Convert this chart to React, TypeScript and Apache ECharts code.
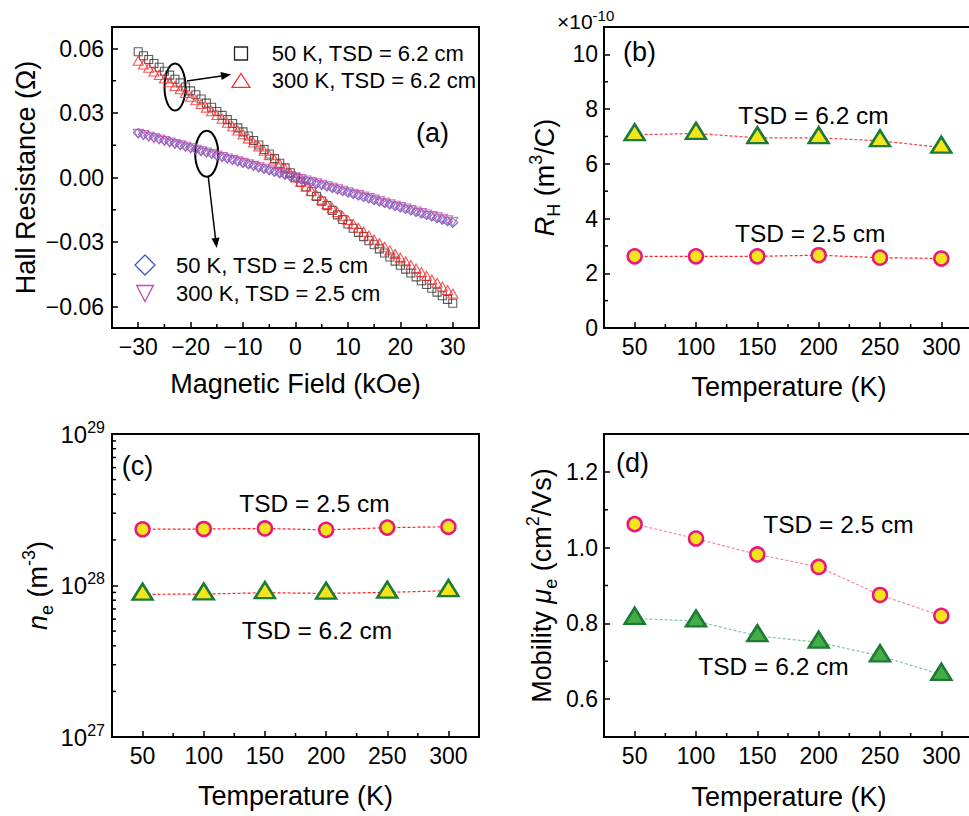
import React, { useEffect, useRef } from 'react';
import * as echarts from 'echarts';

// ---------- Panel (a): Hall resistance vs magnetic field ----------
const field = [
  -30, -29, -28, -27, -26, -25, -24, -23, -22, -21, -20, -19, -18, -17, -16, -15, -14, -13, -12, -11,
  -10, -9, -8, -7, -6, -5, -4, -3, -2, -1, 0, 1, 2, 3, 4, 5, 6, 7, 8, 9,
  10, 11, 12, 13, 14, 15, 16, 17, 18, 19, 20, 21, 22, 23, 24, 25, 26, 27, 28, 29, 30,
];
const hall50K62 = [
  0.0585, 0.0566, 0.0549, 0.053, 0.0513, 0.0494, 0.0476, 0.0457, 0.044, 0.0421,
  0.0403, 0.0385, 0.0365, 0.0346, 0.0327, 0.0307, 0.0289, 0.0269, 0.0251, 0.0231,
  0.0212, 0.0193, 0.0172, 0.0151, 0.013, 0.0109, 0.0088, 0.0066, 0.0045, 0.0022,
  0.0001, -0.0021, -0.0044, -0.0066, -0.0088, -0.011, -0.0131, -0.0153, -0.0174, -0.0195,
  -0.0216, -0.0236, -0.0255, -0.0275, -0.0294, -0.0313, -0.0332, -0.0351, -0.037, -0.0389,
  -0.0408, -0.0426, -0.0444, -0.0462, -0.048, -0.0498, -0.0515, -0.0533, -0.055, -0.0567, -0.0585,
];
const hall300K62 = [
  0.0543, 0.0526, 0.051, 0.0493, 0.0477, 0.046, 0.0443, 0.0426, 0.041, 0.0393,
  0.0376, 0.0359, 0.0342, 0.0325, 0.0308, 0.0291, 0.0273, 0.0255, 0.0237, 0.0219,
  0.0201, 0.0182, 0.0163, 0.0144, 0.0124, 0.0104, 0.0084, 0.0063, 0.0042, 0.0021,
  0.0, -0.0021, -0.0042, -0.0062, -0.0083, -0.0103, -0.0123, -0.0142, -0.0161, -0.018,
  -0.0198, -0.0216, -0.0234, -0.0252, -0.027, -0.0288, -0.0305, -0.0322, -0.0339, -0.0356,
  -0.0373, -0.039, -0.0407, -0.0423, -0.044, -0.0457, -0.0474, -0.049, -0.0507, -0.0523, -0.054,
];
const hall50K25 = [
  0.0207, 0.02, 0.0193, 0.0187, 0.018, 0.0173, 0.0166, 0.0159, 0.0152, 0.0145,
  0.0138, 0.0131, 0.0124, 0.0117, 0.011, 0.0103, 0.0096, 0.0089, 0.0082, 0.0075,
  0.0069, 0.0062, 0.0055, 0.0048, 0.0041, 0.0034, 0.0027, 0.002, 0.0013, 0.0007,
  0.0, -0.0007, -0.0014, -0.0021, -0.0028, -0.0035, -0.0042, -0.0049, -0.0056, -0.0063,
  -0.007, -0.0077, -0.0084, -0.0091, -0.0098, -0.0105, -0.0112, -0.0119, -0.0126, -0.0133,
  -0.014, -0.0147, -0.0154, -0.0161, -0.0168, -0.0175, -0.0182, -0.0189, -0.0196, -0.0203, -0.021,
];
const hall300K25 = [
  0.0203, 0.0197, 0.019, 0.0183, 0.0177, 0.017, 0.0163, 0.0156, 0.015, 0.0143,
  0.0136, 0.0129, 0.0122, 0.0116, 0.0109, 0.0102, 0.0095, 0.0088, 0.0081, 0.0075,
  0.0068, 0.0061, 0.0054, 0.0047, 0.0041, 0.0034, 0.0027, 0.002, 0.0014, 0.0007,
  0.0, -0.0007, -0.0014, -0.0021, -0.0027, -0.0034, -0.0041, -0.0048, -0.0055, -0.0062,
  -0.0069, -0.0076, -0.0082, -0.0089, -0.0096, -0.0103, -0.011, -0.0117, -0.0124, -0.0131,
  -0.0137, -0.0144, -0.0151, -0.0158, -0.0165, -0.0172, -0.0179, -0.0185, -0.0192, -0.0199, -0.0206,
];

// ---------- Panels (b)-(d): vs temperature ----------
const temps = [50, 100, 150, 200, 250, 300];
const rh62 = [7.06, 7.11, 6.95, 6.95, 6.84, 6.6]; // x1e-10 m3/C
const rh25 = [2.62, 2.62, 2.62, 2.66, 2.57, 2.54];
const ne25 = [2.35e28, 2.36e28, 2.38e28, 2.33e28, 2.41e28, 2.44e28];
const ne62 = [8.74e27, 8.78e27, 8.96e27, 8.87e27, 9.01e27, 9.24e27];
const mu25 = [1.062, 1.024, 0.982, 0.949, 0.875, 0.82];
const mu62 = [0.813, 0.806, 0.767, 0.75, 0.714, 0.665];

// minor tick values (axis decoration)
const fieldMinorTicks = [-25, -15, -5, 5, 15, 25];
const hallMinorTicks = [-0.045, -0.015, 0.015, 0.045];
const tempMinorTicks = [75, 125, 175, 225, 275];
const rhMinorTicks = [1, 3, 5, 7, 9];
const logMinorTicks = [2e27, 3e27, 4e27, 5e27, 6e27, 7e27, 8e27, 9e27, 2e28, 3e28, 4e28, 5e28, 6e28, 7e28, 8e28, 9e28];
const muMinorTicks = [0.7, 0.9, 1.1];

const FONT = "'Liberation Sans', Arial, Helvetica, sans-serif";
const YEL = '#f4e51b';
const PINK = '#e8197e';
const DGREEN = '#1c7a36';
const LGREEN = '#45ad45';

// the right-hand panels are cropped by the page edge: the chart canvas is wider
// than the window, and the grids keep the same px-per-kelvin as the left ones
const CANVAS_W = 1100;
const RIGHT_W = 460;
const RIGHT_MAX = 25 + RIGHT_W * (300 / 368);

const near = (v: number, step: number) => Math.abs(Math.round(v / step) * step - v) < step * 1e-6;
const minus = (s: string) => s.replace('-', '\u2212');

function mainAxis(gridIndex: number, min: number, max: number, step: number, position: string, margin: number, fmt: (v: number) => string, extra: any = {}) {
  return {
    type: 'value', gridIndex, min, max, minInterval: step, maxInterval: step, position,
    axisLine: { show: true, onZero: false, lineStyle: { color: '#000', width: 2 } },
    axisTick: { show: true, inside: true, length: 6, lineStyle: { color: '#000', width: 1.5 } },
    minorTick: { show: false },
    splitLine: { show: false },
    axisLabel: { show: true, margin, fontSize: 23, color: '#000', fontFamily: FONT, formatter: fmt, hideOverlap: false },
    ...extra,
  };
}
function frameAxis(gridIndex: number, min: number, max: number, position: string) {
  return {
    type: 'value', gridIndex, min, max, position,
    axisLine: { show: true, onZero: false, lineStyle: { color: '#000', width: 2 } },
    axisTick: { show: false },
    axisLabel: { show: false },
    splitLine: { show: false },
  };
}
// short inward minor ticks drawn through the axes' own scales
function minorTickSeries(xi: number, yi: number, pts: number[][], dir: 'x' | 'y') {
  return {
    type: 'custom', xAxisIndex: xi, yAxisIndex: yi, silent: true, clip: false, z: 5,
    data: pts,
    renderItem: (_p: any, api: any) => {
      const p = api.coord([api.value(0), api.value(1)]);
      const shape = dir === 'y'
        ? { x1: p[0], y1: p[1], x2: p[0] + 4, y2: p[1] }
        : { x1: p[0], y1: p[1], x2: p[0], y2: p[1] - 4 };
      return { type: 'line', shape, style: { stroke: '#000', lineWidth: 1.5 } };
    },
  };
}
const nameStyle = (lh: number, rich?: any) => ({
  fontSize: 27, fontFamily: FONT, color: '#000', lineHeight: lh,
  ...(rich ? { rich } : {}),
});
const titleRich = {
  i: { fontSize: 27, fontFamily: FONT, fontStyle: 'italic', color: '#000' },
  sub: { fontSize: 18, fontFamily: FONT, verticalAlign: 'bottom', color: '#000' },
  sup: { fontSize: 18, fontFamily: FONT, verticalAlign: 'top', color: '#000' },
};
const tempFmt = (v: number) => (near(v, 50) && v >= 50 && v <= 300 ? String(Math.round(v)) : '');

function txt(x: number, y: number, text: string, size: number, extra: any = {}) {
  return {
    type: 'text', x, y, silent: true,
    style: { text, fontSize: size, fontFamily: FONT, fill: '#000', align: 'left', textAlign: 'left', verticalAlign: 'middle', textVerticalAlign: 'middle', ...extra },
  };
}

function buildOption(): any {
  const boxed = { show: true, borderColor: '#000', borderWidth: 2 };
  const open = { show: false };
  const grids = [
    { left: 112, top: 27, width: 367, height: 301, ...boxed },
    { left: 604, top: 27, width: RIGHT_W, height: 301, ...open },
    { left: 112, top: 434, width: 367, height: 303, ...boxed },
    { left: 604, top: 434, width: RIGHT_W, height: 303, ...open },
  ].map((g) => ({ ...g, backgroundColor: 'transparent', containLabel: false, outerBoundsMode: 'none' }));

  const xAxis = [
    mainAxis(0, -35, 35, 10, 'bottom', 7, (v) => (near(v, 10) && Math.abs(v) <= 30 ? minus(String(Math.round(v))) : ''), {
      name: 'Magnetic Field (kOe)', nameLocation: 'middle', nameGap: 42, nameTextStyle: nameStyle(27),
    }),
    mainAxis(1, 25, RIGHT_MAX, 50, 'bottom', 7, tempFmt),
    mainAxis(2, 25, 325, 50, 'bottom', 7, tempFmt, {
      name: 'Temperature (K)', nameLocation: 'middle', nameGap: 45, nameTextStyle: nameStyle(27),
    }),
    mainAxis(3, 25, RIGHT_MAX, 50, 'bottom', 7, tempFmt),
    frameAxis(1, 25, RIGHT_MAX, 'top'),
    frameAxis(3, 25, RIGHT_MAX, 'top'),
  ];

  const yAxis = [
    mainAxis(0, -0.07, 0.07, 0.03, 'left', 8, (v) => (near(v, 0.03) && Math.abs(v) <= 0.061 ? minus((Math.abs(v) < 1e-9 ? 0 : v).toFixed(2)) : ''), {
      name: 'Hall Resistance (\u03A9)', nameLocation: 'middle', nameGap: 73, nameTextStyle: nameStyle(27),
    }),
    mainAxis(1, 0, 11, 2, 'left', 6, (v) => (near(v, 2) && v <= 10 ? String(Math.round(v)) : ''), {
      name: '{i|R}{sub|H} (m{sup|3}/C)', nameLocation: 'middle', nameGap: 41, nameTextStyle: nameStyle(36, titleRich),
    }),
    {
      type: 'log', logBase: 10, gridIndex: 2, min: 1e27, max: 1e29, position: 'left',
      axisLine: { show: true, onZero: false, lineStyle: { color: '#000', width: 2 } },
      axisTick: { show: true, inside: true, length: 6, lineStyle: { color: '#000', width: 1.5 } },
      splitLine: { show: false },
      axisLabel: {
        show: true, margin: 7, color: '#000', fontFamily: FONT,
        formatter: (v: number) => '{b|10}{s|' + Math.round(Math.log10(v)) + '}',
        rich: {
          b: { fontSize: 24, lineHeight: 30, fontFamily: FONT, color: '#000' },
          s: { fontSize: 16, verticalAlign: 'top', fontFamily: FONT, color: '#000' },
        },
      },
      name: '{i|n}{sub|e} (m{sup|-3})', nameLocation: 'middle', nameGap: 56, nameTextStyle: nameStyle(36, titleRich),
    },
    mainAxis(3, 0.5, 1.3, 0.2, 'left', 6, (v) => (near(v, 0.2) && v > 0.55 && v < 1.25 ? v.toFixed(1) : ''), {
      name: 'Mobility {i|\u03BC}{sub|e} (cm{sup|2}/Vs)', nameLocation: 'middle', nameGap: 44, nameTextStyle: nameStyle(36, titleRich),
    }),
  ];

  const hollow = (color: string) => ({ color: 'rgba(0,0,0,0)', borderColor: color, borderWidth: 1.1 });
  const pairs = (xs: number[], ys: number[]) => xs.map((x, i) => [x, ys[i]]);
  const triOff = [0, -16 / 6];

  const series: any[] = [
    { type: 'scatter', name: '50 K, TSD = 6.2 cm', xAxisIndex: 0, yAxisIndex: 0, data: pairs(field, hall50K62), symbol: 'rect', symbolSize: 8, itemStyle: hollow('#333333'), silent: true },
    { type: 'scatter', name: '300 K, TSD = 6.2 cm', xAxisIndex: 0, yAxisIndex: 0, data: pairs(field, hall300K62), symbol: 'triangle', symbolSize: [10, 9], itemStyle: hollow('#ff2b2b'), silent: true },
    { type: 'scatter', name: '50 K, TSD = 2.5 cm', xAxisIndex: 0, yAxisIndex: 0, data: pairs(field, hall50K25), symbol: 'diamond', symbolSize: [10, 9], itemStyle: hollow('#4060c8'), silent: true },
    { type: 'scatter', name: '300 K, TSD = 2.5 cm', xAxisIndex: 0, yAxisIndex: 0, data: pairs(field, hall300K25), symbol: 'triangle', symbolRotate: 180, symbolSize: [10, 9], itemStyle: hollow('#c24bab'), silent: true },

    { type: 'line', name: 'RH TSD = 6.2 cm', xAxisIndex: 1, yAxisIndex: 1, data: pairs(temps, rh62), symbol: 'triangle', symbolSize: [20, 16], symbolOffset: triOff,
      itemStyle: { color: YEL, borderColor: DGREEN, borderWidth: 2.5 }, lineStyle: { color: '#ff3b3b', width: 1.2, type: [3, 2] }, z: 3 },
    { type: 'line', name: 'RH TSD = 2.5 cm', xAxisIndex: 1, yAxisIndex: 1, data: pairs(temps, rh25), symbol: 'circle', symbolSize: 14,
      itemStyle: { color: YEL, borderColor: PINK, borderWidth: 2.5 }, lineStyle: { color: '#ff2020', width: 1.2, type: [3, 2] }, z: 3 },

    { type: 'line', name: 'ne TSD = 2.5 cm', xAxisIndex: 2, yAxisIndex: 2, data: pairs(temps, ne25), symbol: 'circle', symbolSize: 14,
      itemStyle: { color: YEL, borderColor: PINK, borderWidth: 2.5 }, lineStyle: { color: '#ff2020', width: 1.2, type: [3, 2] }, z: 3 },
    { type: 'line', name: 'ne TSD = 6.2 cm', xAxisIndex: 2, yAxisIndex: 2, data: pairs(temps, ne62), symbol: 'triangle', symbolSize: [20, 16], symbolOffset: triOff,
      itemStyle: { color: YEL, borderColor: DGREEN, borderWidth: 2.5 }, lineStyle: { color: '#ff2020', width: 1.2, type: [3, 2] }, z: 3 },

    { type: 'line', name: 'mu TSD = 2.5 cm', xAxisIndex: 3, yAxisIndex: 3, data: pairs(temps, mu25), symbol: 'circle', symbolSize: 14,
      itemStyle: { color: YEL, borderColor: PINK, borderWidth: 2.5 }, lineStyle: { color: '#f28ca6', width: 1.2, type: [3, 2] }, z: 3 },
    { type: 'line', name: 'mu TSD = 6.2 cm', xAxisIndex: 3, yAxisIndex: 3, data: pairs(temps, mu62), symbol: 'triangle', symbolSize: [20, 16], symbolOffset: triOff,
      itemStyle: { color: LGREEN, borderColor: DGREEN, borderWidth: 2.5 }, lineStyle: { color: '#86c4a4', width: 1.2, type: [3, 2] }, z: 3 },

    // minor ticks
    minorTickSeries(0, 0, fieldMinorTicks.map((v) => [v, -0.07]), 'x'),
    minorTickSeries(0, 0, hallMinorTicks.map((v) => [-35, v]), 'y'),
    minorTickSeries(1, 1, tempMinorTicks.map((v) => [v, 0]), 'x'),
    minorTickSeries(1, 1, rhMinorTicks.map((v) => [25, v]), 'y'),
    minorTickSeries(2, 2, tempMinorTicks.map((v) => [v, 1e27]), 'x'),
    minorTickSeries(2, 2, logMinorTicks.map((v) => [25, v]), 'y'),
    minorTickSeries(3, 3, tempMinorTicks.map((v) => [v, 0.5]), 'x'),
    minorTickSeries(3, 3, muMinorTicks.map((v) => [25, v]), 'y'),
  ];

  const stroke = (c: string, w = 1.3) => ({ fill: 'none', stroke: c, lineWidth: w });
  const graphic: any[] = [
    // legend (a), top
    { type: 'rect', shape: { x: 234.5, y: 47, width: 13, height: 13 }, style: stroke('#222') },
    txt(271.7, 53.5, '50 K, TSD = 6.2 cm', 22),
    { type: 'polygon', shape: { points: [[241, 73.5], [250, 87.3], [232, 87.3]] }, style: stroke('#ff2b2b') },
    txt(271.7, 80.5, '300 K, TSD = 6.2 cm', 22),
    // legend (a), bottom
    { type: 'polygon', shape: { points: [[145, 255], [155, 265], [145, 275], [135, 265]] }, style: stroke('#3b5bc4') },
    txt(176, 265.5, '50 K, TSD = 2.5 cm', 22),
    { type: 'polygon', shape: { points: [[136.7, 285.5], [153.3, 285.5], [145, 301.5]] }, style: stroke('#c24bab') },
    txt(176, 293.5, '300 K, TSD = 2.5 cm', 22),
    // ellipses and arrows
    { type: 'ellipse', shape: { cx: 175, cy: 87, rx: 10.5, ry: 23.5 }, style: stroke('#000', 2) },
    { type: 'line', shape: { x1: 187, y1: 81, x2: 221.5, y2: 76 }, style: { stroke: '#000', lineWidth: 1.5 } },
    { type: 'polygon', shape: { points: [[231, 74.5], [221.7, 79.9], [220.5, 72.0]] }, style: { fill: '#000' } },
    { type: 'ellipse', shape: { cx: 206.7, cy: 153.7, rx: 11.5, ry: 23 }, style: stroke('#000', 2) },
    { type: 'line', shape: { x1: 208.3, y1: 177, x2: 215.5, y2: 238.5 }, style: { stroke: '#000', lineWidth: 1.5 } },
    { type: 'polygon', shape: { points: [[216.7, 248], [219.5, 237.6], [211.5, 238.6]] }, style: { fill: '#000' } },
    // panel labels
    txt(416, 133, '(a)', 27),
    txt(623, 52, '(b)', 27),
    txt(121.7, 465.5, '(c)', 27),
    txt(616, 462.5, '(d)', 27),
    // x-axis titles of the cropped right-hand panels (centred on the visible box)
    txt(789, 386.5, 'Temperature (K)', 27, { align: 'center', textAlign: 'center' }),
    txt(789, 796.5, 'Temperature (K)', 27, { align: 'center', textAlign: 'center' }),
    // TSD annotations
    txt(738.3, 115, 'TSD = 6.2 cm', 24.5),
    txt(735, 233.3, 'TSD = 2.5 cm', 24.5),
    txt(239.3, 503.3, 'TSD = 2.5 cm', 24.5),
    txt(241.7, 630, 'TSD = 6.2 cm', 24.5),
    txt(763.3, 524, 'TSD = 2.5 cm', 24.5),
    txt(698.3, 666.7, 'TSD = 6.2 cm', 24.5),
    // axis multiplier for (b)
    {
      type: 'text', x: 557, y: 7.5, silent: true,
      style: {
        text: '\u00D710{s|-10}', fontSize: 21, fontFamily: FONT, fill: '#000', lineHeight: 28,
        align: 'left', textAlign: 'left', verticalAlign: 'top', textVerticalAlign: 'top',
        rich: { s: { fontSize: 15, fontFamily: FONT, fill: '#000', verticalAlign: 'top' } },
      },
    },
  ];

  return {
    animation: false,
    backgroundColor: '#ffffff',
    textStyle: { fontFamily: FONT, color: '#000' },
    grid: grids,
    xAxis,
    yAxis,
    series,
    graphic,
  };
}

export default function App() {
  const ref = useRef<HTMLDivElement | null>(null);
  useEffect(() => {
    if (!ref.current) return;
    const chart = echarts.init(ref.current, undefined, { renderer: 'svg' });
    chart.setOption(buildOption());
    return () => chart.dispose();
  }, []);
  return (
    <div style={{ position: 'fixed', left: 0, top: 0, width: '100vw', height: '100vh', overflow: 'hidden', background: '#fff' }}>
      <div ref={ref} style={{ position: 'absolute', left: 0, top: 0, width: CANVAS_W, height: 816 }} />
    </div>
  );
}
